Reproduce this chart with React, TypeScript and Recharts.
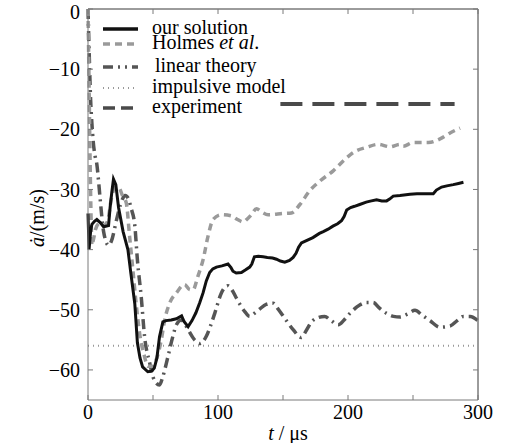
import React from 'react';
import { LineChart, Line, XAxis, YAxis } from 'recharts';

// t in microseconds, v = da/dt in m/s
const ourSolution = [
  { t: 0, v: -34 }, { t: 0.8, v: -40 }, { t: 2, v: -37 }, { t: 3, v: -35.8 }, { t: 5, v: -35.3 },
  { t: 6.8, v: -35 }, { t: 9.4, v: -35.5 }, { t: 12, v: -36.2 }, { t: 15.8, v: -36 }, { t: 17, v: -33 },
  { t: 18.3, v: -30.5 }, { t: 19.6, v: -28.3 }, { t: 21.4, v: -29.2 }, { t: 23.5, v: -33 }, { t: 27, v: -37 },
  { t: 30.7, v: -40 }, { t: 33, v: -44 }, { t: 36, v: -49 }, { t: 38, v: -55.5 }, { t: 40, v: -58 },
  { t: 42, v: -59.5 }, { t: 46, v: -60.3 }, { t: 49, v: -60.2 }, { t: 51, v: -59.7 }, { t: 53, v: -58 },
  { t: 55, v: -54.5 }, { t: 57.6, v: -52 }, { t: 60, v: -51.8 }, { t: 64, v: -51.7 }, { t: 68, v: -51.5 },
  { t: 72, v: -51 }, { t: 74, v: -52 }, { t: 77, v: -52.8 }, { t: 80, v: -51.8 }, { t: 83, v: -50.5 },
  { t: 86, v: -48.8 }, { t: 88.5, v: -47.2 }, { t: 91, v: -45.2 }, { t: 93.6, v: -43.8 }, { t: 96, v: -43.2 },
  { t: 98.8, v: -42.9 }, { t: 103, v: -42.7 }, { t: 107.7, v: -42.4 }, { t: 110, v: -43 }, { t: 111.5, v: -43.6 },
  { t: 114, v: -43.9 }, { t: 118, v: -43.8 }, { t: 121, v: -43.4 }, { t: 124.4, v: -42.9 }, { t: 126, v: -42.4 },
  { t: 128, v: -41.2 }, { t: 131, v: -41.1 }, { t: 134.7, v: -41.2 }, { t: 138, v: -41.3 }, { t: 142, v: -41.4 },
  { t: 145, v: -41.6 }, { t: 148, v: -41.9 }, { t: 151.4, v: -42.1 }, { t: 155, v: -41.8 }, { t: 157.8, v: -41.3 },
  { t: 160, v: -40.6 }, { t: 162, v: -39.6 }, { t: 164.2, v: -38.9 }, { t: 168, v: -38.5 }, { t: 173, v: -38 },
  { t: 178, v: -37.3 }, { t: 181, v: -37 }, { t: 184.7, v: -36.6 }, { t: 188.4, v: -36.1 }, { t: 192, v: -35.7 },
  { t: 195, v: -35.2 }, { t: 197, v: -34.5 }, { t: 199, v: -33.4 }, { t: 202, v: -33 }, { t: 205, v: -32.8 },
  { t: 209, v: -32.5 }, { t: 214, v: -32.1 }, { t: 218, v: -31.9 }, { t: 222, v: -31.7 }, { t: 226, v: -31.9 },
  { t: 229.7, v: -31.9 }, { t: 232, v: -31.6 }, { t: 234.8, v: -31.1 }, { t: 240, v: -31 }, { t: 247.7, v: -30.8 },
  { t: 253, v: -30.7 }, { t: 260.5, v: -30.7 }, { t: 265.6, v: -30.7 }, { t: 268, v: -30.1 }, { t: 272, v: -29.6 },
  { t: 276, v: -29.4 }, { t: 281, v: -29.2 }, { t: 285, v: -29 }, { t: 288.8, v: -28.8 },
];

const holmes = [
  { t: 0, v: 0 }, { t: 0.8, v: -12 }, { t: 1.6, v: -25 }, { t: 2.4, v: -35 }, { t: 3, v: -39.3 },
  { t: 4, v: -38.5 }, { t: 6, v: -36.5 }, { t: 9, v: -35.6 }, { t: 12, v: -36 }, { t: 15, v: -35.3 },
  { t: 18, v: -31.5 }, { t: 21, v: -29.6 }, { t: 24, v: -29.8 }, { t: 26.5, v: -31 }, { t: 29.4, v: -32.2 },
  { t: 32, v: -37.8 }, { t: 34.5, v: -43.3 }, { t: 37, v: -48.9 }, { t: 39.7, v: -53.9 }, { t: 43.5, v: -57.8 },
  { t: 46, v: -59.4 }, { t: 50, v: -59.4 }, { t: 52.5, v: -58.3 }, { t: 56.4, v: -55 }, { t: 59, v: -51.7 },
  { t: 62.8, v: -48.9 }, { t: 68, v: -47.2 }, { t: 74.3, v: -45.8 }, { t: 78, v: -46.6 }, { t: 80.7, v: -46.7 },
  { t: 84.6, v: -44.4 }, { t: 88.5, v: -41.7 }, { t: 92.3, v: -37.8 }, { t: 96.2, v: -35 }, { t: 102.6, v: -34.2 },
  { t: 110.3, v: -34.4 }, { t: 115, v: -35 }, { t: 119.3, v: -35.4 }, { t: 122, v: -35 }, { t: 125.7, v: -34.2 },
  { t: 129.6, v: -33.2 }, { t: 134, v: -33.8 }, { t: 138.5, v: -34.2 }, { t: 150, v: -34 }, { t: 156.5, v: -33.9 },
  { t: 163, v: -32.5 }, { t: 170.6, v: -30.2 }, { t: 178.4, v: -28.6 }, { t: 188.6, v: -26.9 }, { t: 197.6, v: -25 },
  { t: 205.3, v: -23.7 }, { t: 214.3, v: -23 }, { t: 223.3, v: -22.5 }, { t: 232.3, v: -22.9 }, { t: 240, v: -22.5 },
  { t: 242.5, v: -22.8 }, { t: 250.2, v: -22.2 }, { t: 261.8, v: -22.2 }, { t: 270.8, v: -21.6 }, { t: 278.5, v: -20.6 },
  { t: 286.2, v: -19.8 },
];

const linearTheory = [
  { t: 0, v: 0 }, { t: 1, v: -8 }, { t: 2, v: -15 }, { t: 3, v: -19 }, { t: 4, v: -22 },
  { t: 5.5, v: -24.5 }, { t: 6.8, v: -25.8 }, { t: 8, v: -28.3 }, { t: 9.4, v: -31.7 }, { t: 12, v: -37 },
  { t: 15.8, v: -39.3 }, { t: 18, v: -38.6 }, { t: 22, v: -35 }, { t: 25, v: -32.5 }, { t: 28.6, v: -31 },
  { t: 31, v: -31.5 }, { t: 33, v: -33 }, { t: 36, v: -36 }, { t: 38, v: -41.7 }, { t: 41, v: -48 },
  { t: 43.5, v: -54.4 }, { t: 47.4, v: -58.8 }, { t: 51, v: -61.7 }, { t: 55, v: -62.5 }, { t: 57.6, v: -61.1 },
  { t: 61.5, v: -57.8 }, { t: 65.3, v: -54.4 }, { t: 68, v: -52.5 }, { t: 71.8, v: -51.7 }, { t: 74, v: -52.2 },
  { t: 77, v: -53.3 }, { t: 82, v: -55 }, { t: 86, v: -55.6 }, { t: 91, v: -54.4 }, { t: 94, v: -52.8 },
  { t: 97.5, v: -50.6 }, { t: 102.6, v: -47.2 }, { t: 107.7, v: -46 }, { t: 111, v: -46.8 }, { t: 114, v: -48 },
  { t: 120.6, v: -50.3 }, { t: 124.4, v: -51.1 }, { t: 128, v: -50.6 }, { t: 132, v: -49.9 }, { t: 137, v: -49.1 },
  { t: 142.4, v: -48.9 }, { t: 146, v: -49.8 }, { t: 150, v: -51 }, { t: 157.8, v: -53.3 }, { t: 164, v: -54.6 },
  { t: 168, v: -53.4 }, { t: 172, v: -52 }, { t: 177, v: -51.3 }, { t: 182, v: -51.1 }, { t: 187, v: -51.8 },
  { t: 192.5, v: -52.5 }, { t: 197, v: -51.7 }, { t: 201.5, v: -50.6 }, { t: 209, v: -49.2 }, { t: 214, v: -48.8 },
  { t: 219.4, v: -48.8 }, { t: 224, v: -49.7 }, { t: 229.7, v: -50.6 }, { t: 235, v: -51.1 }, { t: 240, v: -51.2 },
  { t: 246, v: -50.7 }, { t: 251.5, v: -50.1 }, { t: 257, v: -50.9 }, { t: 263, v: -51.8 }, { t: 270.8, v: -52.9 },
  { t: 278.5, v: -52.7 }, { t: 284, v: -51.8 }, { t: 288.8, v: -51.1 }, { t: 294, v: -51.1 }, { t: 300, v: -51.8 },
];

const impulsiveModel = [{ t: 0, v: -56 }, { t: 300, v: -56 }];
const experiment = [{ t: 148, v: -15.8 }, { t: 282, v: -15.8 }];

const xTicks = [0, 50, 100, 150, 200, 250, 300];
const yTicks = [-60, -50, -40, -30, -20, -10, 0];

const legendItems = [
  { label: 'our solution', color: '#111', width: 3.5, dash: undefined, y: 29 },
  { label: 'Holmes', color: '#9a9a9a', width: 3.5, dash: '7 5', y: 44 },
  { label: 'linear theory', color: '#555', width: 3.5, dash: '10 5 2 5 2 5', y: 67 },
  { label: 'impulsive model', color: '#999', width: 2, dash: '1 4', y: 88 },
  { label: 'experiment', color: '#4a4a4a', width: 3.5, dash: '12 6', y: 108 },
];

const FONT = 'Liberation Serif';
const AXIS = '#7a7a7a';
const tickStyle = { fill: '#000', fontSize: 20, fontFamily: FONT };

// plot box (chart margins + axis sizes)
const W = 505;
const H = 443;
const LEFT = 88;
const RIGHT = W - 27;
const TOP = 9;
const BOTTOM = H - 43;

const fmtY = (v: number) => (v < 0 ? '\u2212' + Math.abs(v) : String(v));
const fmtX = (v: number) => (v % 100 === 0 ? String(v) : '');

export default function App() {
  const tx = (t: number) => LEFT + (t / 300) * (RIGHT - LEFT);
  const ty = (v: number) => TOP + (-v / 65) * (BOTTOM - TOP);
  return (
    <div style={{ position: 'absolute', left: 0, top: 0, width: W, height: H, background: '#fff' }}>
      <LineChart width={W} height={H} margin={{ top: 0, right: 0, bottom: 0, left: 0 }}>
        <XAxis
          xAxisId="b"
          dataKey="t"
          type="number"
          domain={[0, 300]}
          ticks={xTicks}
          tickFormatter={fmtX}
          height={43}
          stroke={AXIS}
          tickSize={-5}
          tickMargin={10}
          tick={tickStyle}
        />
        <XAxis xAxisId="t" orientation="top" dataKey="t" type="number" domain={[0, 300]} ticks={xTicks} height={9} stroke={AXIS} tickSize={-5} tick={false} />
        <YAxis
          yAxisId="l"
          type="number"
          domain={[-65, 0]}
          ticks={yTicks}
          tickFormatter={fmtY}
          width={88}
          stroke={AXIS}
          tickSize={-5}
          tickMargin={13}
          tick={tickStyle}
        />
        <YAxis yAxisId="r" orientation="right" type="number" domain={[-65, 0]} ticks={yTicks} width={27} stroke={AXIS} tickSize={-5} tick={false} />
        <Line xAxisId="t" yAxisId="r" data={impulsiveModel} dataKey="v" type="linear" stroke="#999" strokeWidth={2} strokeDasharray="1 4" dot={false} isAnimationActive={false} />
        <Line xAxisId="t" yAxisId="r" data={experiment} dataKey="v" type="linear" stroke="#4a4a4a" strokeWidth={4} strokeDasharray="22 10" dot={false} isAnimationActive={false} />
        <Line xAxisId="b" yAxisId="l" data={linearTheory} dataKey="v" type="monotone" stroke="#555" strokeWidth={3.5} strokeDasharray="10 5 2 5" dot={false} isAnimationActive={false} />
        <Line xAxisId="b" yAxisId="l" data={holmes} dataKey="v" type="monotone" stroke="#9a9a9a" strokeWidth={3.5} strokeDasharray="7 5" dot={false} isAnimationActive={false} />
        <Line xAxisId="b" yAxisId="l" data={ourSolution} dataKey="v" type="linear" stroke="#111" strokeWidth={3} dot={false} isAnimationActive={false} />
      </LineChart>
      <svg width={W} height={H} style={{ position: 'absolute', left: 0, top: 0, pointerEvents: 'none' }}>
        {/* top and right frame with inward ticks */}
        <line x1={LEFT} x2={RIGHT} y1={TOP} y2={TOP} stroke={AXIS} />
        <line x1={RIGHT} x2={RIGHT} y1={TOP} y2={BOTTOM} stroke={AXIS} />
        {xTicks.map((t) => (
          <line key={'xt' + t} x1={tx(t)} x2={tx(t)} y1={TOP} y2={TOP + 5} stroke={AXIS} />
        ))}
        {yTicks.map((v) => (
          <line key={'yt' + v} x1={RIGHT - 5} x2={RIGHT} y1={ty(v)} y2={ty(v)} stroke={AXIS} />
        ))}
        {legendItems.map((it) => (
          <g key={it.label}>
            <line x1={103} x2={138} y1={it.y} y2={it.y} stroke={it.color} strokeWidth={it.width} strokeDasharray={it.dash} />
            <text x={it.label === 'linear theory' ? 155 : 152} y={it.y + 5} fontSize={20} fontFamily={FONT} fill="#000">
              {it.label === 'Holmes' ? (
                <>
                  Holmes <tspan fontStyle="italic">et al</tspan>.
                </>
              ) : (
                it.label
              )}
            </text>
          </g>
        ))}
        <text transform="translate(44,218) rotate(-90)" textAnchor="middle" fontSize={20} fontFamily={FONT} fill="#000">
          <tspan fontStyle="italic">ȧ</tspan>/(m/s)
        </text>
        <text x={288} y={440} textAnchor="middle" fontSize={20} fontFamily={FONT} fill="#000">
          <tspan fontStyle="italic">t</tspan> / μs
        </text>
      </svg>
    </div>
  );
}
